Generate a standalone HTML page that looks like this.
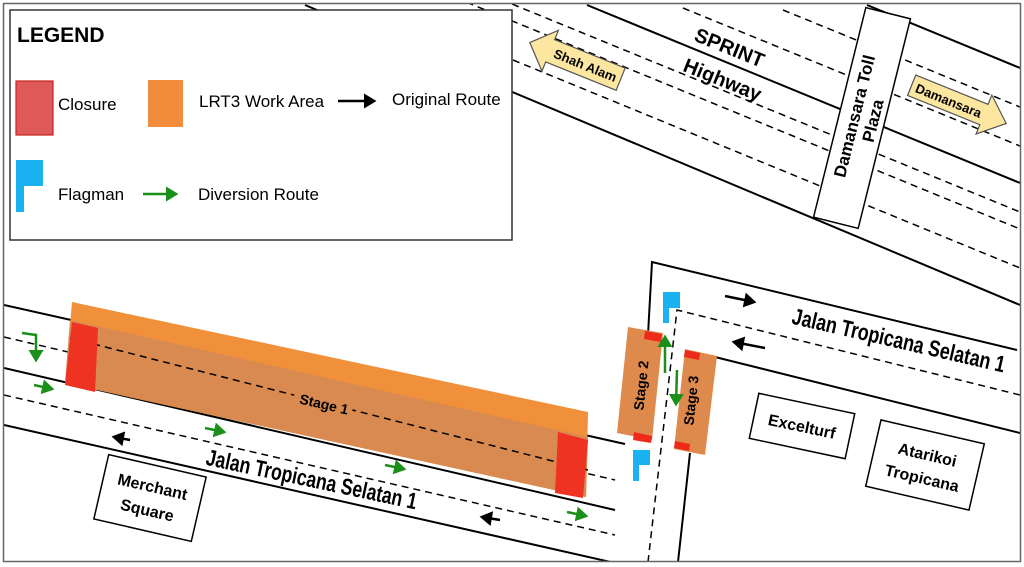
<!DOCTYPE html>
<html><head><meta charset="utf-8"><style>
html,body{margin:0;padding:0;background:#fff;}
svg{display:block;font-family:"Liberation Sans",sans-serif;}
</style></head><body>
<svg width="1024" height="567" viewBox="0 0 1024 567" xmlns="http://www.w3.org/2000/svg">
<defs>
<marker id="ab" markerWidth="6" markerHeight="6" refX="4" refY="3" orient="auto" markerUnits="strokeWidth"><path d="M0,0 L5,3 L0,6 z" fill="#000"/></marker>
<marker id="ag" markerWidth="6" markerHeight="6" refX="4" refY="3" orient="auto" markerUnits="strokeWidth"><path d="M0,0 L5,3 L0,6 z" fill="#1a8f1a"/></marker>
<clipPath id="c"><rect x="4" y="4" width="1016" height="557"/></clipPath>
</defs>
<rect x="0" y="0" width="1024" height="567" fill="#fff"/>
<g clip-path="url(#c)">
<g stroke="#000" stroke-width="2" fill="none">
<line x1="305" y1="5" x2="1020" y2="305"/>
<line x1="587" y1="5" x2="1020" y2="183"/>
<line x1="867" y1="5" x2="1020" y2="68"/>
</g>
<g stroke="#000" stroke-width="1.5" stroke-dasharray="7,5" fill="none">
<line x1="400" y1="-25" x2="1020" y2="229"/>
<line x1="490" y1="-5" x2="1020" y2="212"/>
<line x1="513" y1="60" x2="1020" y2="268"/>
<line x1="683" y1="8" x2="1020" y2="146"/>
<line x1="783" y1="10" x2="1020" y2="107"/>
</g>
<g transform="translate(862,118) rotate(14)">
<rect x="-23" y="-108" width="46" height="216" fill="#fff" stroke="#000" stroke-width="1.5"/>
<text transform="rotate(-90)" x="0" y="-2" text-anchor="middle" font-size="17" font-weight="bold">Damansara Toll</text>
<text transform="rotate(-90)" x="0" y="17" text-anchor="middle" font-size="17" font-weight="bold">Plaza</text>
</g>
<g transform="translate(578,62) rotate(22)">
<polygon points="-52,0 -30,-22 -30,-12 46,-12 46,12 -30,12 -30,22" fill="#fde7a0" stroke="#555" stroke-width="1.2"/>
<text x="8" y="5" text-anchor="middle" font-size="13" font-weight="bold">Shah Alam</text>
</g>
<g transform="translate(958,104) rotate(22)">
<polygon points="-50,-11 28,-11 28,-21 52,0 28,21 28,11 -50,11" fill="#fde7a0" stroke="#555" stroke-width="1.2"/>
<text x="-10" y="5" text-anchor="middle" font-size="13" font-weight="bold">Damansara</text>
</g>
<text transform="translate(727,54) rotate(22)" text-anchor="middle" font-size="20" font-weight="bold">SPRINT</text>
<text transform="translate(720,86) rotate(22)" text-anchor="middle" font-size="20" font-weight="bold">Highway</text>

<g stroke="#000" stroke-width="2" fill="none">
<polyline points="648,335 652,262 1017,350"/>
<line x1="715" y1="357" x2="1020" y2="433"/>
<line x1="690" y1="453" x2="678" y2="562"/>
</g>
<g stroke="#000" stroke-width="1.5" stroke-dasharray="7,5" fill="none">
<polyline points="648,562 677,310 1020,395"/>
</g>

<g stroke="#000" stroke-width="2" fill="none">
<line x1="4" y1="305" x2="625" y2="444"/>
<line x1="4" y1="368" x2="615" y2="510"/>
<line x1="4" y1="425" x2="615" y2="563"/>
</g>
<g stroke="#000" stroke-width="1.5" stroke-dasharray="7,5" fill="none">
<line x1="4" y1="337" x2="615" y2="480"/>
<line x1="4" y1="395" x2="615" y2="535"/>
</g>

<polygon points="72,302 588,412 586,497 65,383" fill="#f0903a"/>
<polygon points="70,320 588,437 586,497 65,383" fill="#d98a50"/>
<line x1="70" y1="338" x2="588" y2="470" stroke="#000" stroke-width="1.5" stroke-dasharray="7,5"/>
<polygon points="72,322 98,328 95,392 65,385" fill="#ee3322"/>
<polygon points="558,432 588,440 583,498 555,493" fill="#ee3322"/>
<rect x="293" y="395" width="60" height="18" fill="#d98a50" transform="rotate(13 323 404)"/>
<text transform="translate(323,409) rotate(13)" text-anchor="middle" font-size="14" font-weight="bold">Stage 1</text>

<polygon points="628,327 663,333 652,440 617,433" fill="#de8a4c"/>
<polygon points="645,331 662,334 661,342 644,339" fill="#ee2a1a"/>
<polygon points="634,432 652,436 651,443 633,440" fill="#ee2a1a"/>
<polygon points="685,349 717,356 705,455 674,449" fill="#de8a4c"/>
<polygon points="685,350 700,353 699,360 684,357" fill="#ee2a1a"/>
<polygon points="675,441 690,444 689,451 674,448" fill="#ee2a1a"/>
<text transform="translate(646,386) rotate(-84)" text-anchor="middle" font-size="14" font-weight="bold">Stage 2</text>
<text transform="translate(696,401) rotate(-84)" text-anchor="middle" font-size="14" font-weight="bold">Stage 3</text>
<line x1="665" y1="373" x2="665" y2="337" stroke="#1a8f1a" stroke-width="2.5" marker-end="url(#ag)"/>
<line x1="677" y1="370" x2="676" y2="404" stroke="#1a8f1a" stroke-width="2.5" marker-end="url(#ag)"/>
<path d="M663,292 H680 V308 H669 V323 H663 Z" fill="#1ab2f0"/>
<path d="M633,450 H650 V465 H639 V481 H633 Z" fill="#1ab2f0"/>

<line x1="725" y1="296" x2="754" y2="302" stroke="#000" stroke-width="2.5" marker-end="url(#ab)"/>
<line x1="765" y1="348" x2="734" y2="342" stroke="#000" stroke-width="2.5" marker-end="url(#ab)"/>
<line x1="130" y1="440" x2="114" y2="437" stroke="#000" stroke-width="2.5" marker-end="url(#ab)"/>
<line x1="500" y1="520" x2="482" y2="517" stroke="#000" stroke-width="2.5" marker-end="url(#ab)"/>
<polyline points="22,333 36,335 36,360" fill="none" stroke="#1a8f1a" stroke-width="2.5" marker-end="url(#ag)"/>
<line x1="34" y1="385" x2="52" y2="389" stroke="#1a8f1a" stroke-width="2.5" marker-end="url(#ag)"/>
<line x1="205" y1="428" x2="224" y2="432" stroke="#1a8f1a" stroke-width="2.5" marker-end="url(#ag)"/>
<line x1="385" y1="465" x2="404" y2="469" stroke="#1a8f1a" stroke-width="2.5" marker-end="url(#ag)"/>
<line x1="567" y1="512" x2="586" y2="516" stroke="#1a8f1a" stroke-width="2.5" marker-end="url(#ag)"/>

<text transform="translate(310,487) rotate(12)" text-anchor="middle" font-size="23" font-weight="bold" textLength="215" lengthAdjust="spacingAndGlyphs">Jalan Tropicana Selatan 1</text>
<text transform="translate(897,348) rotate(13)" text-anchor="middle" font-size="23" font-weight="bold" textLength="218" lengthAdjust="spacingAndGlyphs">Jalan Tropicana Selatan 1</text>

<g transform="translate(150,498) rotate(13)">
<rect x="-50" y="-33" width="100" height="66" fill="#fff" stroke="#000" stroke-width="1.5"/>
<text x="0" y="-6" text-anchor="middle" font-size="16" font-weight="bold">Merchant</text>
<text x="0" y="18" text-anchor="middle" font-size="16" font-weight="bold">Square</text>
</g>
<g transform="translate(802,426) rotate(12)">
<rect x="-49" y="-23" width="98" height="46" fill="#fff" stroke="#000" stroke-width="1.5"/>
<text x="0" y="6" text-anchor="middle" font-size="16" font-weight="bold">Excelturf</text>
</g>
<g transform="translate(925,465) rotate(13)">
<rect x="-53" y="-34" width="106" height="68" fill="#fff" stroke="#000" stroke-width="1.5"/>
<text x="0" y="-5" text-anchor="middle" font-size="16" font-weight="bold">Atarikoi</text>
<text x="0" y="19" text-anchor="middle" font-size="16" font-weight="bold">Tropicana</text>
</g>

<rect x="10" y="10" width="502" height="230" fill="#fff" stroke="#333" stroke-width="1.5"/>
<text x="17" y="42" font-size="21" font-weight="bold">LEGEND</text>
<rect x="16" y="81" width="37" height="54" fill="#de5a5a" stroke="#cc2222" stroke-width="1.2"/>
<text x="58" y="110" font-size="17">Closure</text>
<rect x="148" y="80" width="35" height="47" fill="#f08c3c"/>
<text x="199" y="107" font-size="17">LRT3 Work Area</text>
<line x1="338" y1="101" x2="374" y2="101" stroke="#000" stroke-width="2.5" marker-end="url(#ab)"/>
<text x="392" y="105" font-size="17">Original Route</text>
<path d="M16,160 H43 V186 H24 V212 H16 Z" fill="#1ab2f0"/>
<text x="58" y="200" font-size="17">Flagman</text>
<line x1="143" y1="194" x2="176" y2="194" stroke="#1a8f1a" stroke-width="2.5" marker-end="url(#ag)"/>
<text x="198" y="200" font-size="17">Diversion Route</text>
</g>
<rect x="3.5" y="3.5" width="1017" height="558" fill="none" stroke="#666" stroke-width="1.5"/>
</svg>
</body></html>
